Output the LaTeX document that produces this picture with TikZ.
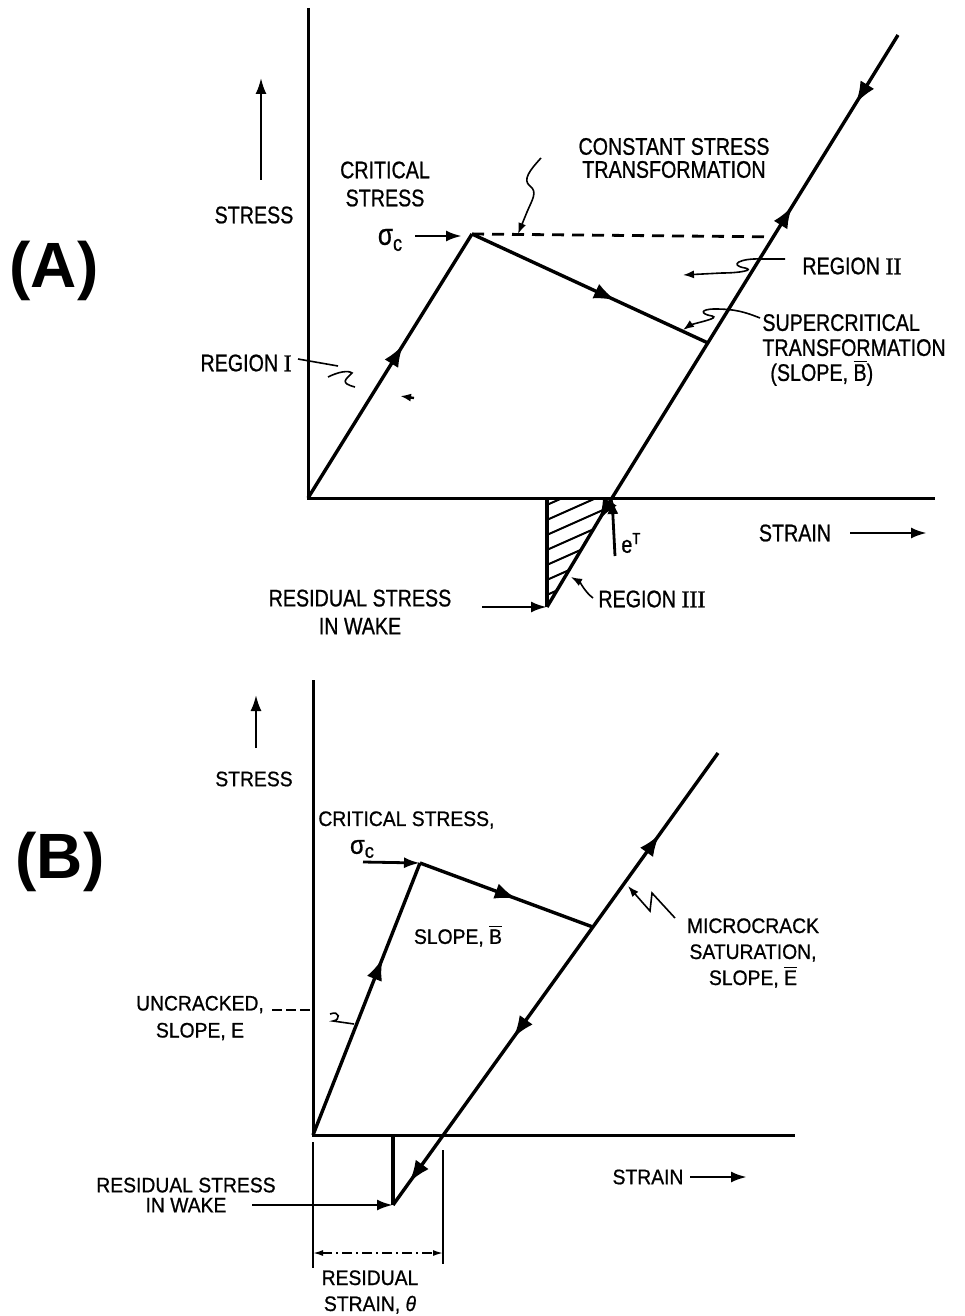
\documentclass[tikz,border=0pt]{standalone}
\usepackage{fontspec}
\setmainfont{Liberation Sans}
\newfontfamily\afont{Liberation Sans}[FakeStretch=0.82,FakeBold=0.8]
\newfontfamily\bfont{Liberation Sans}[FakeStretch=0.92,FakeBold=0.8]
\newfontfamily\romfont{Liberation Serif}[FakeBold=1.2]
\usetikzlibrary{arrows.meta,decorations.markings,calc}
\newcommand{\obar}[1]{$\overline{\mbox{#1}}$}
\tikzset{
  axisline/.style={line width=1.5pt},
  curveline/.style={line width=1.7pt, line join=round},
  leadline/.style={line width=0.8pt},
  tipped/.style={-{Latex[length=8pt,width=5.5pt]}},
  smalltip/.style={-{Latex[length=5.5pt,width=4pt]}},
  lblA/.style={font=\afont\fontsize{12}{#1}\selectfont, inner sep=0pt, align=center},
  lblA/.default=14,
  lblB/.style={font=\bfont\fontsize{10.5}{#1}\selectfont, inner sep=0pt, align=center},
  lblB/.default=13,
  bigl/.style={font=\bfseries\fontsize{32}{36}\selectfont, inner sep=0pt},
  fwd/.style={postaction={decorate, decoration={markings, mark=at position #1 with {\arrow{Latex[length=11pt,width=8pt]}}}}},
  bwd/.style={postaction={decorate, decoration={markings, mark=at position #1 with {\arrowreversed{Latex[length=11pt,width=8pt]}}}}},
}
\begin{document}
\begin{tikzpicture}[x=0.5pt,y=-0.5pt]
\useasboundingbox (0,0) rectangle (964,1316);

% ================= (A) =================
\coordinate (oA) at (308,498);
\coordinate (axTopA) at (308,8);
\coordinate (axRightA) at (935,498);
\coordinate (pA) at (472,234);
\coordinate (topA) at (898,35);
\coordinate (eTA) at (612,498);
\coordinate (botA) at (547,607);
\coordinate (wallA) at (547,498);
\coordinate (sA) at ($(topA)!0.665!(eTA)$);
\coordinate (dashEndA) at ($(topA)!0.436!(eTA)$);

\node[bigl] (labA) at (54,271) {(A)};

% axes
\draw[axisline] (axTopA) -- (oA) -- (axRightA);

% hatching of region III
\begin{scope}
  \clip (wallA) -- (eTA) -- (botA) -- cycle;
  \foreach \i in {0,...,8}
    \draw[line width=1pt] (540,508+15*\i) -- (630,468+15*\i);
\end{scope}

% loading path
\draw[curveline, fwd=0.58] (oA) -- (pA);
\draw[curveline, fwd=0.61] (pA) -- (sA);
\draw[curveline, dash pattern=on 6pt off 4pt, line width=1.4pt] (pA) -- (dashEndA);
\draw[curveline, fwd=0.12, bwd=0.30, fwd=0.85] (topA) -- (eTA) -- (botA);
\draw[curveline] (wallA) -- (botA);

% stress label and arrow
\node[lblA] (stressA) at (254,215) {STRESS};
\coordinate (upA0) at (261,180);
\coordinate (upA1) at (261,78);
\draw[line width=1.1pt, tipped] (upA0) -- (upA1);

\node[lblA] (critA) at (385,184) {CRITICAL\\STRESS};
\node[lblA] (sigA) at (390,240) {\fontsize{15}{15}\selectfont σ\raisebox{-3pt}{\fontsize{11}{11}\selectfont c}};
\coordinate (sigArA) at (415,236);
\coordinate (sigArB) at (462,236);
\draw[line width=1.4pt, tipped] (sigArA) -- (sigArB);

\node[lblA=11.5] (cstA) at (674,158) {CONSTANT STRESS\\TRANSFORMATION};
\draw[leadline, smalltip] (541,158) .. controls (530,170) and (522,180) .. (530,186)
  .. controls (538,192) and (532,200) .. (527,212) -- (518,234);

\node[lblA, anchor=west] (r2A) at (802,266) {REGION {\romfont II}};
\draw[leadline, smalltip] (785,259) -- (762,259) .. controls (740,258) and (728,265) .. (745,268)
  .. controls (755,270) and (740,273) .. (722,273) -- (683,275);

\node[lblA=12.5, anchor=west, align=left] (supA) at (762,350) {SUPERCRITICAL\\TRANSFORMATION\\\,\,(SLOPE, \obar{B})};
\draw[leadline, smalltip] (760,318) .. controls (745,312) and (735,309) .. (715,309)
  .. controls (700,309) and (700,314) .. (712,316) .. controls (720,318) and (700,322) .. (690,325) -- (683,330);

\node[lblA, anchor=east] (r1A) at (292,363) {REGION {\romfont I}};
\draw[leadline] (298,359) -- (338,366);
\draw[leadline] (328,377) .. controls (338,372) and (348,370) .. (352,373)
  .. controls (345,380) and (340,383) .. (355,387);
\coordinate (r1tipA) at (400,396);
\coordinate (r1tailA) at (414,398);
\draw[line width=1.2pt, smalltip] (r1tailA) -- (r1tipA);

\node[lblA] (strainA) at (795,533) {STRAIN};
\coordinate (stArA) at (850,533);
\coordinate (stArB) at (927,533);
\draw[line width=1.4pt, tipped] (stArA) -- (stArB);

\node[lblA] (eTlabA) [anchor=west] at (621,543) {e\textsuperscript{T}};
\coordinate (eTarr) at (615,556);
\draw[line width=1.4pt, tipped] (eTarr) -- (eTA);

\node[lblA] (resA) at (360,612) {RESIDUAL STRESS\\IN WAKE};
\coordinate (resArA) at (482,607);
\draw[line width=1.4pt, tipped] (resArA) -- (botA);

\node[lblA, anchor=west] (r3A) at (598,599) {REGION {\romfont III}};
\draw[leadline, smalltip] (593,598) .. controls (585,592) and (580,582) .. (571,577);

% ================= (B) =================
\coordinate (oB) at (313,1135);
\coordinate (axTopB) at (313,680);
\coordinate (axRightB) at (795,1135);
\coordinate (pB) at (420,863);
\coordinate (topB) at (718,753);
\coordinate (botB) at (393,1205);
\coordinate (wallB) at (393,1135);
\coordinate (sB) at ($(topB)!0.385!(botB)$);
\coordinate (eTB) at ($(topB)!0.845!(botB)$);

\node[bigl] (labB) at (60,862) {(B)};

\draw[axisline] (axTopB) -- (oB) -- (axRightB);
\draw[curveline, fwd=0.65] (oB) -- (pB);
\draw[curveline, fwd=0.56] (pB) -- (sB);
\draw[curveline, bwd=0.18, fwd=0.63, fwd=0.95] (topB) -- (botB);
\draw[curveline] (wallB) -- (botB);

\node[lblB] (stressB) at (254,779) {STRESS};
\coordinate (upB0) at (256,748);
\coordinate (upB1) at (256,695);
\draw[line width=1.1pt, tipped] (upB0) -- (upB1);

\node[lblB, anchor=west] (critB) at (318,820) {CRITICAL STRESS,};
\node[lblB] (sigB) at (362,849) {\fontsize{13}{13}\selectfont σ\raisebox{-2pt}{\fontsize{10}{10}\selectfont c}};
\coordinate (sigArB0) at (363,862);
\draw[line width=1.4pt, tipped] (sigArB0) -- (pB);

\node[lblB] (slopeB) at (458,936) {SLOPE, \obar{B}};

\node[lblB=13.5] (uncB) at (200,1018) {UNCRACKED,\\SLOPE, E};
\draw[leadline, dash pattern=on 5pt off 2pt] (272,1010) -- (313,1010);
\draw[leadline] (330,1014) .. controls (340,1010) and (341,1020) .. (333,1021) -- (354,1024);

\node[lblB] (micB) at (753,953) {MICROCRACK\\SATURATION,\\SLOPE, \obar{E}};
\draw[leadline, smalltip] (675,918) -- (652,893) -- (650,911) -- (628,886);

\node[lblB] (strainB) at (648,1177) {STRAIN};
\coordinate (stArB0) at (690,1177);
\coordinate (stArB1) at (747,1177);
\draw[line width=1.4pt, tipped] (stArB0) -- (stArB1);

\node[lblB=10] (resB) at (186,1195) {RESIDUAL STRESS\\IN WAKE};
\coordinate (resArB) at (252,1205);
\draw[line width=1.4pt, tipped] (resArB) -- (botB);

% residual strain dimension
\coordinate (dimL0) at (313,1142);
\coordinate (dimL1) at (313,1268);
\coordinate (dimR0) at (443,1150);
\coordinate (dimR1) at (443,1264);
\coordinate (dimA) at (313,1253);
\coordinate (dimB) at (443,1253);
\draw[line width=0.6pt] (dimL0) -- (dimL1);
\draw[line width=0.6pt] (dimR0) -- (dimR1);
\draw[leadline, dash pattern=on 5pt off 2pt on 1pt off 2pt, {Latex[length=5pt,width=3pt]}-{Latex[length=5pt,width=3pt]}] (dimA) -- (dimB);

\node[lblB] (rsB) at (370,1292) {RESIDUAL\\STRAIN, \textit{θ}};
\end{tikzpicture}
\end{document}
